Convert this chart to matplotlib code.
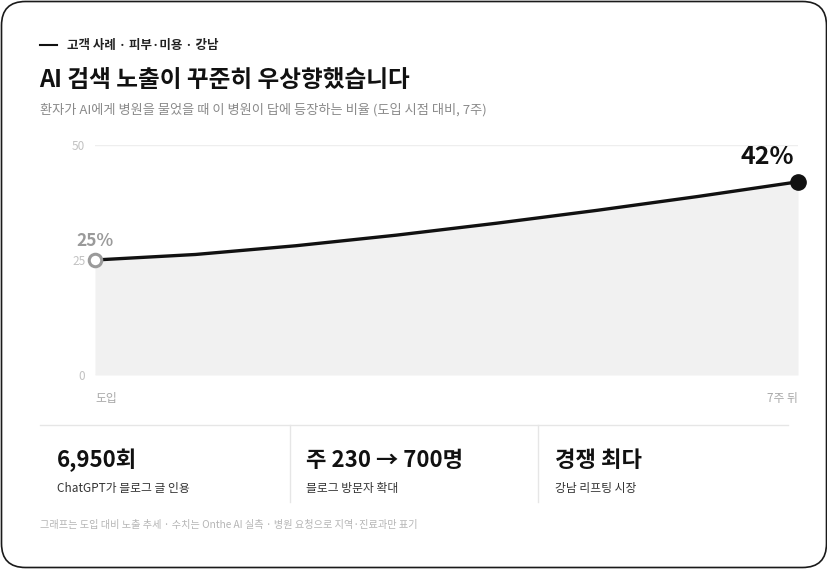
import matplotlib.pyplot as plt
from matplotlib.patches import FancyBboxPatch

plt.rcParams['font.family'] = ['Noto Sans CJK KR', 'DejaVu Sans']

# data
weeks = [0, 1, 2, 3, 4, 5, 6, 7]
exposure = [25, 26.2, 28.1, 30.4, 33.0, 35.8, 38.8, 42]
yticks = [0, 25, 50]
xtick_labels = ['도입', '7주 뒤']

stat_values = ['6,950회', '주 230 → 700명', '경쟁 최다']
stat_labels = ['ChatGPT가 블로그 글 인용', '블로그 방문자 확대', '강남 리프팅 시장']

kicker = '고객 사례 · 피부·미용 · 강남'
title = 'AI 검색 노출이 꾸준히 우상향했습니다'
subtitle = '환자가 AI에게 병원을 물었을 때 이 병원이 답에 등장하는 비율 (도입 시점 대비, 7주)'
footer = '그래프는 도입 대비 노출 추세 · 수치는 Onthe AI 실측 · 병원 요청으로 지역·진료과만 표기'

W, H = 828, 569
fig = plt.figure(figsize=(W / 100, H / 100), dpi=100)
fig.patch.set_facecolor('white')

# background axes in pixel coordinates
bg = fig.add_axes([0, 0, 1, 1])
bg.set_xlim(0, W)
bg.set_ylim(H, 0)
bg.axis('off')

card = FancyBboxPatch((1.5, 1.5), W - 3, H - 3,
                      boxstyle='round,pad=0,rounding_size=24',
                      facecolor='white', edgecolor='#1a1a1a', linewidth=1.2)
bg.add_patch(card)

# header
bg.plot([40, 57], [45, 45], color='#111111', lw=1.5)
bg.text(67, 45, kicker, fontsize=9, fontweight='bold', color='#222222',
        va='center', ha='left')
bg.text(39, 80, title, fontsize=17, fontweight='black', color='#111111',
        va='center', ha='left')
bg.text(40, 110, subtitle, fontsize=9.5, color='#8a8a8a', va='center', ha='left')

# stats
bg.plot([40, 788], [425, 425], color='#e6e6e6', lw=1)
for xd in [290, 538]:
    bg.plot([xd, xd], [425, 502], color='#e6e6e6', lw=1)
for i, (v, lab) in enumerate(zip(stat_values, stat_labels)):
    x0 = [57, 306, 555][i]
    bg.text(x0, 460, v, fontsize=16, fontweight='bold', color='#111111',
            va='center', ha='left')
    bg.text(x0, 488, lab, fontsize=8.5, color='#333333', va='center', ha='left')

bg.text(40, 525, footer, fontsize=7.3, color='#b5b5b5', va='center', ha='left')

# chart
ax = fig.add_axes([95 / W, 1 - 375 / H, (798 - 95) / W, (375 - 145) / H])
ax.set_xlim(0, 7)
ax.set_ylim(0, 50)
for s in ax.spines.values():
    s.set_visible(False)
ax.set_facecolor('none')
ax.set_yticks(yticks)
ax.set_yticklabels([str(t) for t in yticks])
ax.tick_params(axis='y', length=0, pad=7, labelsize=8.5, labelcolor='#c2c2c2')
ax.set_xticks([weeks[0], weeks[-1]])
ax.set_xticklabels(xtick_labels)
ax.tick_params(axis='x', length=0, pad=12, labelsize=8.5, labelcolor='#a8a8a8')
xl = ax.get_xticklabels()
xl[0].set_horizontalalignment('left')
xl[1].set_horizontalalignment('right')
ax.grid(axis='y', color='#eeeeee', lw=1)
ax.set_axisbelow(True)

ax.fill_between(weeks, exposure, 0, color='#f1f1f1', lw=0, zorder=2)
ax.plot(weeks, exposure, color='#111111', lw=2.4, zorder=3,
        solid_capstyle='round', solid_joinstyle='round')
ax.plot(weeks[0], exposure[0], 'o', ms=9, mfc='white', mec='#9a9a9a', mew=2.2,
        zorder=4, clip_on=False)
ax.plot(weeks[-1], exposure[-1], 'o', ms=11, color='#111111', zorder=4,
        clip_on=False)

ax.annotate(f'{exposure[0]:.0f}%', (weeks[0], exposure[0]), xytext=(0, 14),
            textcoords='offset points', ha='center', va='center',
            fontsize=12.5, fontweight='bold', color='#9a9a9a')
ax.annotate(f'{exposure[-1]:.0f}%', (weeks[-1], exposure[-1]), xytext=(-3, 17.5),
            textcoords='offset points', ha='right', va='center',
            fontsize=18, fontweight='bold', color='#111111')

fig.savefig('out.png', dpi=100)
